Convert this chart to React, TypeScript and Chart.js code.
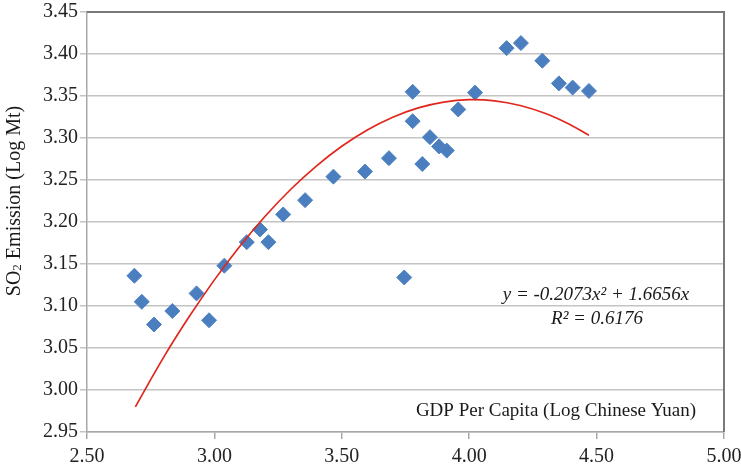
import React, { useEffect, useRef } from "react";
import { Chart, registerables } from "chart.js";

Chart.register(...registerables);

// Scatter data: GDP per capita (log) vs SO2 emission (log)
const gdpX = [2.686, 2.715, 2.763, 2.835, 2.93, 2.979, 3.039, 3.127, 3.179, 3.212, 3.27, 3.356, 3.467, 3.591, 3.685, 3.745, 3.778, 3.778, 3.816, 3.846, 3.882, 3.912, 3.957, 4.023, 4.147, 4.203, 4.287, 4.352, 4.406, 4.47];
const so2Y = [3.136, 3.105, 3.078, 3.094, 3.115, 3.083, 3.148, 3.176, 3.191, 3.176, 3.209, 3.226, 3.254, 3.26, 3.276, 3.134, 3.355, 3.32, 3.269, 3.301, 3.29, 3.285, 3.334, 3.354, 3.407, 3.413, 3.392, 3.365, 3.36, 3.356];

// Trend line points
const trendX = [2.69, 2.8, 2.9, 3.0, 3.1, 3.2, 3.3, 3.4, 3.5, 3.6, 3.7, 3.8, 3.9, 4.0, 4.1, 4.2, 4.3, 4.4, 4.47];
const trendY = [2.98, 3.0385, 3.0868, 3.1311, 3.1712, 3.2071, 3.239, 3.2666, 3.2902, 3.3096, 3.3248, 3.3359, 3.3428, 3.3456, 3.3443, 3.3387, 3.3291, 3.3153, 3.3032];

const xTicks = [2.5, 3.0, 3.5, 4.0, 4.5, 5.0];
const yTicks = [2.95, 3.0, 3.05, 3.1, 3.15, 3.2, 3.25, 3.3, 3.35, 3.4, 3.45];

const equationText = "y = -0.2073x² + 1.6656x";
const r2Text = "R² = 0.6176";
const xTitle = "GDP Per Capita (Log Chinese Yuan)";

const SERIF = "'Liberation Serif', 'Times New Roman', serif";

const textPlugin = {
  id: "textPlugin",
  afterDraw(chart: any) {
    const ctx = chart.ctx;
    const { left, right, top, bottom } = chart.chartArea;
    ctx.save();
    // top and right border
    ctx.strokeStyle = "#7a7a7a";
    ctx.lineWidth = 2;
    ctx.beginPath();
    ctx.moveTo(left, top);
    ctx.lineTo(right, top);
    ctx.lineTo(right, bottom);
    ctx.stroke();

    ctx.fillStyle = "#1a1a1a";
    ctx.textBaseline = "middle";
    // x title inside plot
    ctx.font = `19px ${SERIF}`;
    ctx.textAlign = "center";
    ctx.fillText(xTitle, 556, 411);
    // equation
    ctx.font = `italic 19px ${SERIF}`;
    ctx.fillText(equationText, 596, 295);
    ctx.fillText(r2Text, 597, 319);

    // y title rotated
    ctx.translate(15, 201);
    ctx.rotate(-Math.PI / 2);
    ctx.font = `20px ${SERIF}`;
    const p1 = "SO";
    const p2 = "2";
    const p3 = " Emission (Log Mt)";
    const w1 = ctx.measureText(p1).width;
    ctx.font = `13px ${SERIF}`;
    const w2 = ctx.measureText(p2).width;
    ctx.font = `20px ${SERIF}`;
    const w3 = ctx.measureText(p3).width;
    let x = -(w1 + w2 + w3) / 2;
    ctx.textAlign = "left";
    ctx.fillText(p1, x, 0);
    x += w1;
    ctx.font = `13px ${SERIF}`;
    ctx.fillText(p2, x, 3);
    x += w2;
    ctx.font = `20px ${SERIF}`;
    ctx.fillText(p3, x, 0);
    ctx.restore();
  },
};

export default function App() {
  const ref = useRef<HTMLCanvasElement>(null);
  useEffect(() => {
    if (!ref.current) return;
    const chart = new Chart(ref.current, {
      type: "scatter",
      data: {
        datasets: [
          {
            label: "trend",
            type: "line",
            data: trendX.map((x, i) => ({ x, y: trendY[i] })),
            borderColor: "#e0261d",
            borderWidth: 1.7,
            pointRadius: 0,
            tension: 0.4,
            fill: false,
          } as any,
          {
            label: "data",
            data: gdpX.map((x, i) => ({ x, y: so2Y[i] })),
            pointStyle: "rectRot",
            pointRadius: 7.5,
            backgroundColor: "#4a7ebf",
            borderColor: "#4f83c2",
            borderWidth: 1,
          },
        ],
      },
      options: {
        animation: false,
        responsive: false,
        maintainAspectRatio: false,
        layout: { padding: { left: 0, top: 12, right: 17, bottom: 0 } },
        plugins: {
          legend: { display: false },
          tooltip: { enabled: false },
        },
        scales: {
          x: {
            type: "linear",
            min: 2.5,
            max: 5,
            afterBuildTicks: (s: any) => {
              s.ticks = xTicks.map((v) => ({ value: v }));
            },
            ticks: {
              callback: (v: any) => Number(v).toFixed(2),
              font: { family: SERIF, size: 20 },
              color: "#222",
              padding: 6,
              maxRotation: 0,
              autoSkip: false,
            },
            grid: {
              drawOnChartArea: false,
              drawTicks: true,
              tickLength: 7,
              color: "#a8a8a8",
              lineWidth: 1.5,
            },
            border: { display: true, color: "#a8a8a8", width: 1.5 },
            afterFit: (s: any) => {
              s.height = 37;
              s.paddingLeft = 0;
              s.paddingRight = 0;
            },
          },
          y: {
            type: "linear",
            min: 2.95,
            max: 3.45,
            afterBuildTicks: (s: any) => {
              s.ticks = yTicks.map((v) => ({ value: v }));
            },
            ticks: {
              callback: (v: any) => Number(v).toFixed(2),
              font: { family: SERIF, size: 20 },
              color: "#222",
              padding: 2,
              autoSkip: false,
            },
            grid: {
              drawTicks: true,
              tickLength: 7,
              color: "#c4c4c4",
              lineWidth: 1.5,
            },
            border: { display: true, color: "#a8a8a8", width: 1.5 },
            afterFit: (s: any) => {
              s.width = 87;
              s.paddingTop = 0;
              s.paddingBottom = 0;
            },
          },
        },
      },
      plugins: [textPlugin],
    });
    return () => chart.destroy();
  }, []);
  return (
    <div style={{ position: "fixed", left: 0, top: 0, width: 741, height: 469, background: "#fff" }}>
      <canvas ref={ref} width={741} height={469} style={{ width: 741, height: 469, display: "block" }} />
    </div>
  );
}
